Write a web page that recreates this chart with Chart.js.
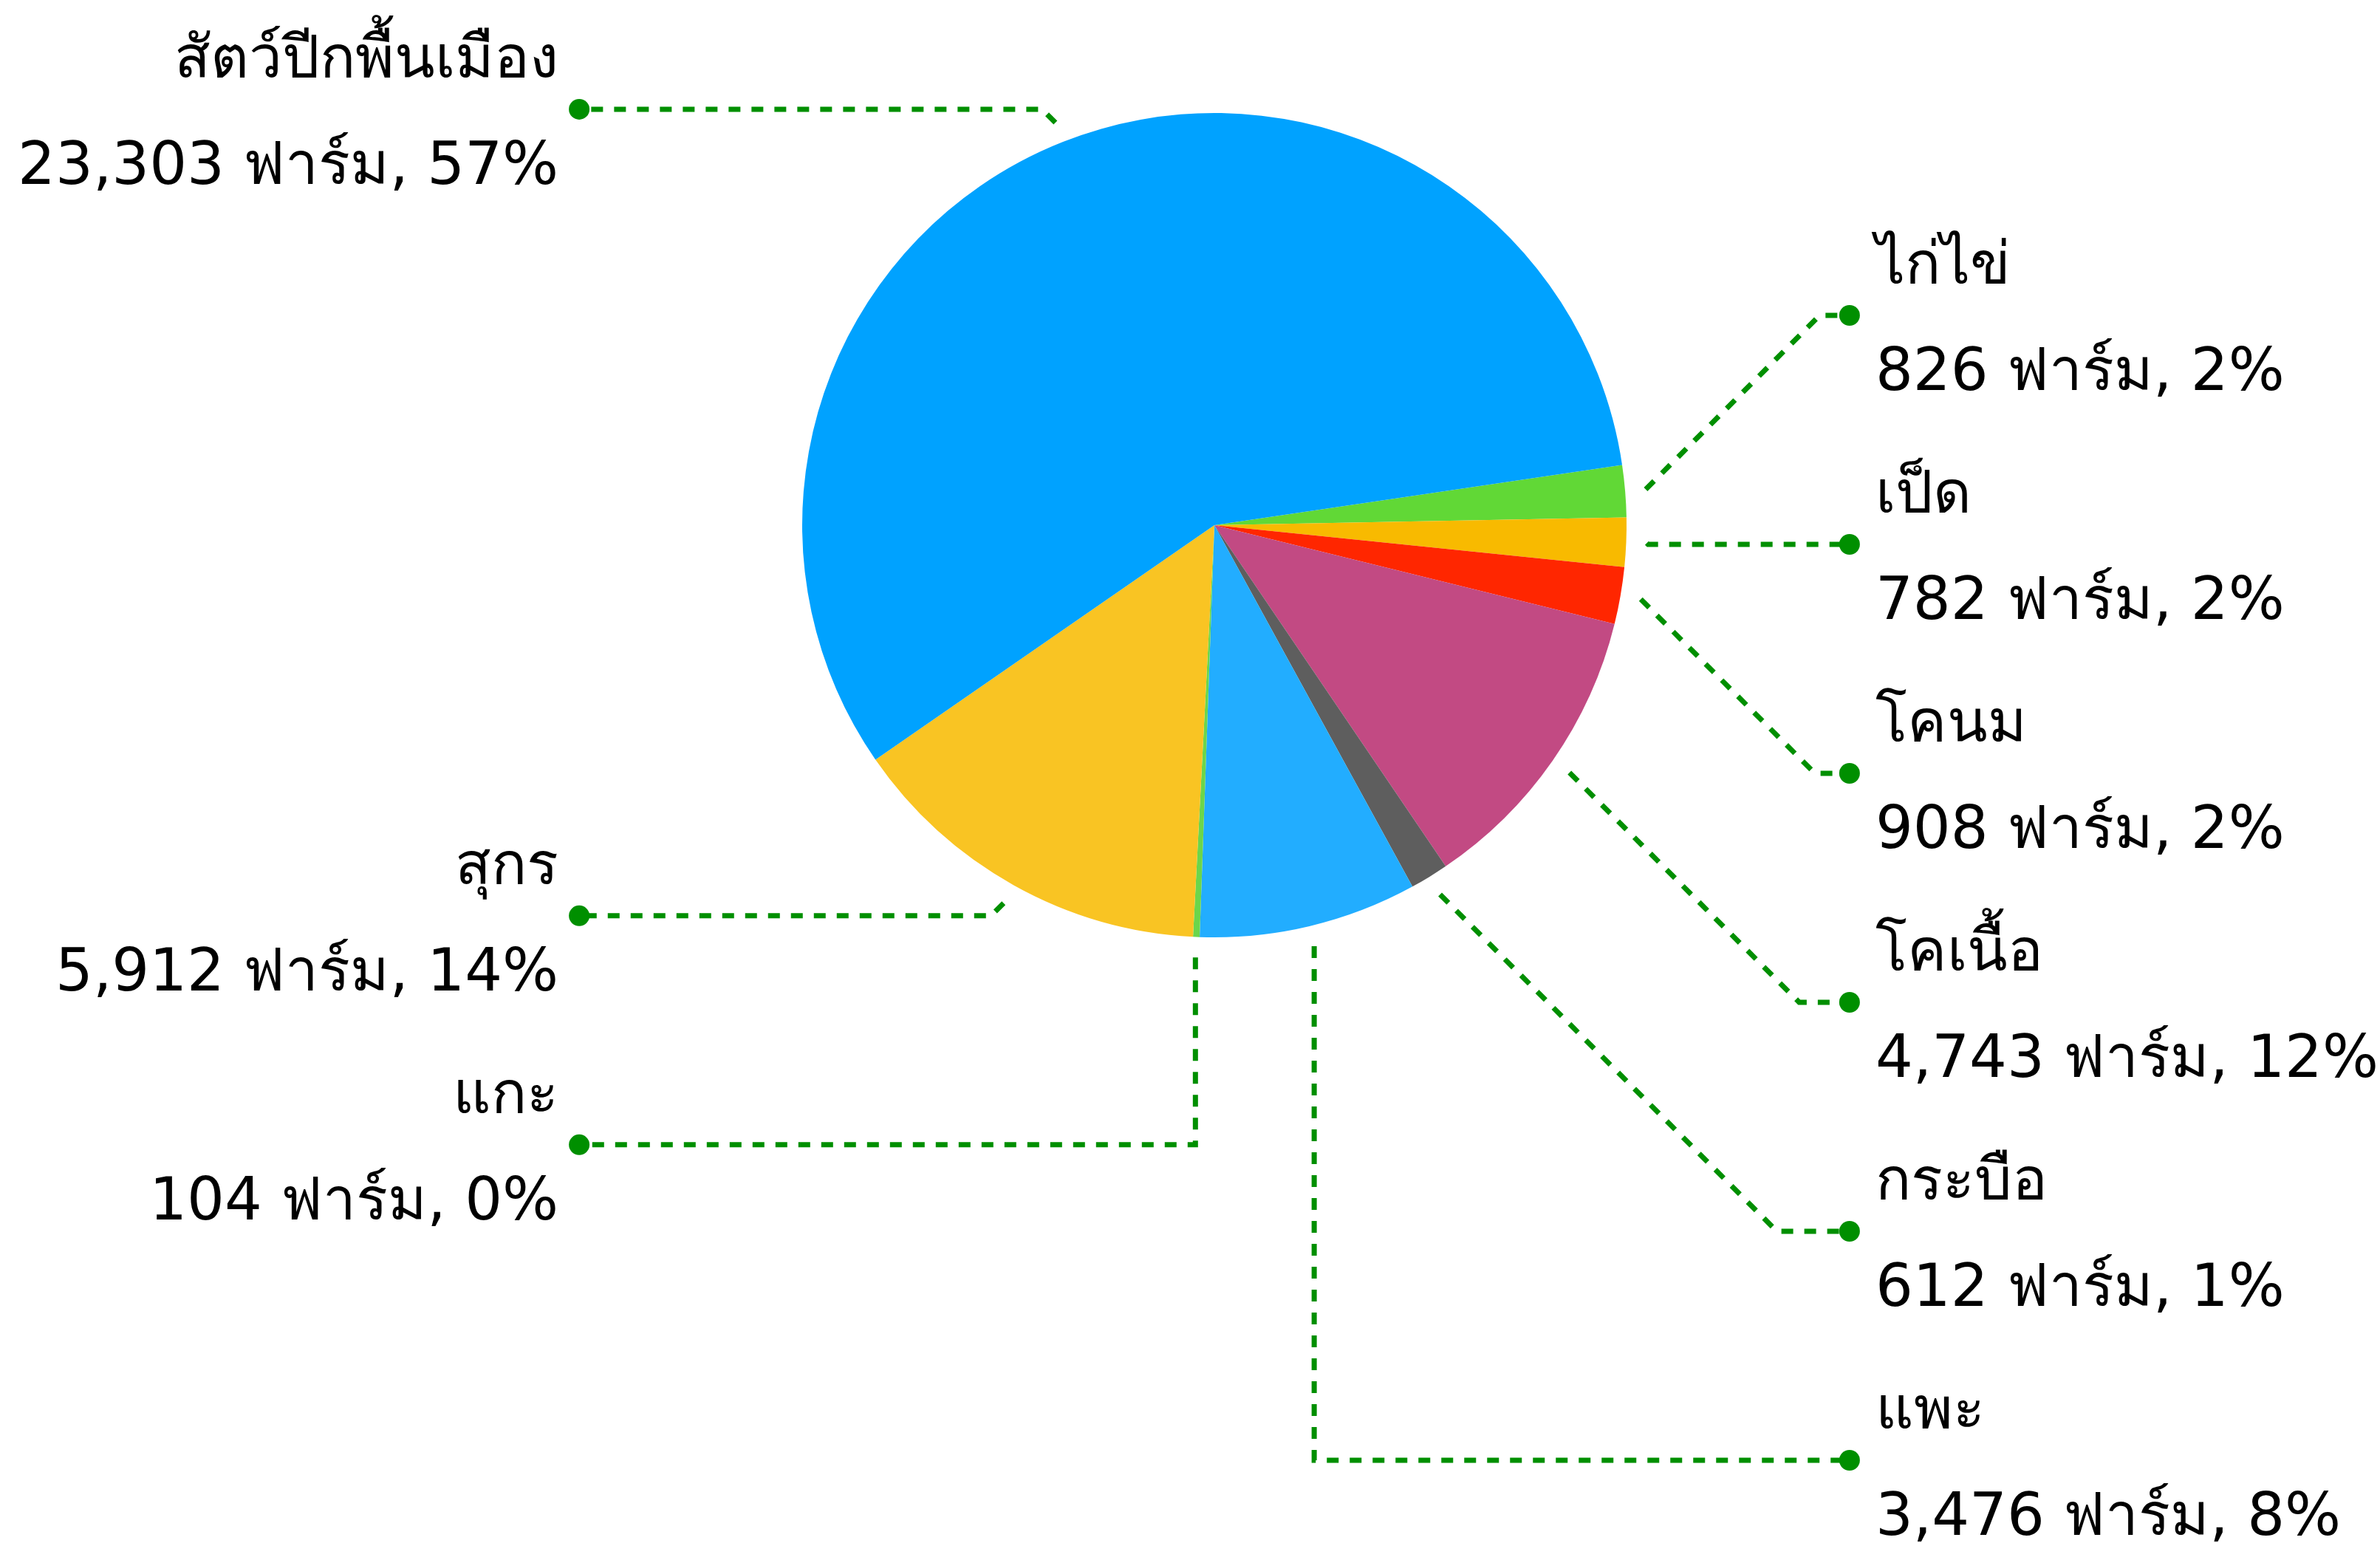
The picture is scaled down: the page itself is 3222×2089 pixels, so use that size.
<!DOCTYPE html>
<html>
<head>
<meta charset="utf-8">
<title>ฟาร์มปศุสัตว์</title>
<script src="https://cdn.jsdelivr.net/npm/chart.js@4"></script>
<style>
    html, body { margin: 0; padding: 0; background: #ffffff; }
    #wrap { width: 3222px; height: 2089px; }
</style>
</head>
<body>
<div id="wrap"><canvas id="farmChart" width="3222" height="2089"></canvas></div>
<script>
// จำนวนฟาร์มแยกตามชนิดสัตว์
const categories = ['ไก่ไข่', 'เป็ด', 'โคนม', 'โคเนื้อ', 'กระบือ', 'แพะ', 'แกะ', 'สุกร', 'สัตว์ปีกพื้นเมือง'];
const farmCounts = [826, 782, 908, 4743, 612, 3476, 104, 5912, 23303];
const percentLabels = ['2%', '2%', '2%', '12%', '1%', '8%', '0%', '14%', '57%'];
const unitLabel = 'ฟาร์ม';

const sliceColors = ['#61D836', '#F8BA00', '#FF2600', '#C24A83', '#5E5E5E', '#22ADFF', '#6BD64B', '#F9C423', '#00A2FF'];
const lineGreen = '#008F00';
const fontSpec = '80px "DejaVu Sans", "Noto Sans", sans-serif';

// callout labels with dashed elbow lines
const calloutPlugin = {
    id: 'callouts',
    afterDraw(chart) {
        const ctx = chart.ctx;
        const arcs = chart.getDatasetMeta(0).data;
        const H = chart.height;
        const spacing = 310;
        const bottomLimit = H - 112;

        let items = arcs.map(function (arc, i) {
            const mid = (arc.startAngle + arc.endAngle) / 2;
            const r = arc.outerRadius;
            return {
                i: i,
                mid: mid,
                cx: arc.x,
                cy: arc.y,
                r: r,
                right: Math.cos(mid) >= 0,
                y: arc.y + r * 1.085 * Math.sin(mid)
            };
        });

        [true, false].forEach(function (side) {
            const group = items.filter(function (it) { return it.right === side; })
                .sort(function (a, b) { return a.y - b.y; });
            for (let k = 1; k < group.length; k++) {
                if (group[k].y < group[k - 1].y + spacing) group[k].y = group[k - 1].y + spacing;
            }
            if (group.length && group[group.length - 1].y > bottomLimit) {
                group[group.length - 1].y = bottomLimit;
                for (let k = group.length - 2; k >= 0; k--) {
                    if (group[k].y > group[k + 1].y - spacing) group[k].y = group[k + 1].y - spacing;
                }
            }
        });

        ctx.save();
        items.forEach(function (it) {
            const dir = it.right ? 1 : -1;
            const dotX = it.cx + dir * it.r * 1.541;
            const dotY = it.y;
            const sx = it.cx + it.r * 1.05 * Math.cos(it.mid);
            const sy = it.cy + it.r * 1.05 * Math.sin(it.mid);

            let pts;
            if (Math.sin(it.mid) > 0 && Math.abs(Math.cos(it.mid)) < 0.35) {
                pts = [[sx, sy], [sx, dotY], [dotX, dotY]];
            } else {
                const kx = sx + dir * Math.abs(dotY - sy);
                pts = [[sx, sy], [kx, dotY], [dotX, dotY]];
            }

            ctx.strokeStyle = lineGreen;
            ctx.lineWidth = 7;
            ctx.setLineDash([16, 15]);
            ctx.lineCap = 'butt';
            ctx.beginPath();
            ctx.moveTo(pts[0][0], pts[0][1]);
            for (let k = 1; k < pts.length; k++) ctx.lineTo(pts[k][0], pts[k][1]);
            ctx.stroke();
            ctx.setLineDash([]);

            ctx.fillStyle = lineGreen;
            ctx.beginPath();
            ctx.arc(dotX, dotY, 14, 0, Math.PI * 2);
            ctx.fill();

            ctx.fillStyle = '#000000';
            ctx.font = fontSpec;
            ctx.textAlign = it.right ? 'left' : 'right';
            ctx.textBaseline = 'alphabetic';
            const tx = it.right ? dotX + 35 : dotX - 28;
            ctx.fillText(categories[it.i], tx, dotY - 43);
            const valueText = farmCounts[it.i].toLocaleString('en-US') + ' ' + unitLabel + ', ' + percentLabels[it.i];
            ctx.fillText(valueText, tx, dotY + 101);
        });
        ctx.restore();
    }
};

const ctx = document.getElementById('farmChart');
const farmChart = new Chart(ctx, {
    type: 'pie',
    data: {
        labels: categories,
        datasets: [{
            data: farmCounts,
            backgroundColor: sliceColors,
            borderWidth: 0
        }]
    },
    options: {
        responsive: false,
        animation: false,
        rotation: 81.6,
        layout: {
            padding: { left: 1086, right: 1020, top: 153, bottom: 820 }
        },
        plugins: {
            legend: { display: false },
            tooltip: { enabled: false }
        }
    },
    plugins: [calloutPlugin]
});
</script>
</body>
</html>
